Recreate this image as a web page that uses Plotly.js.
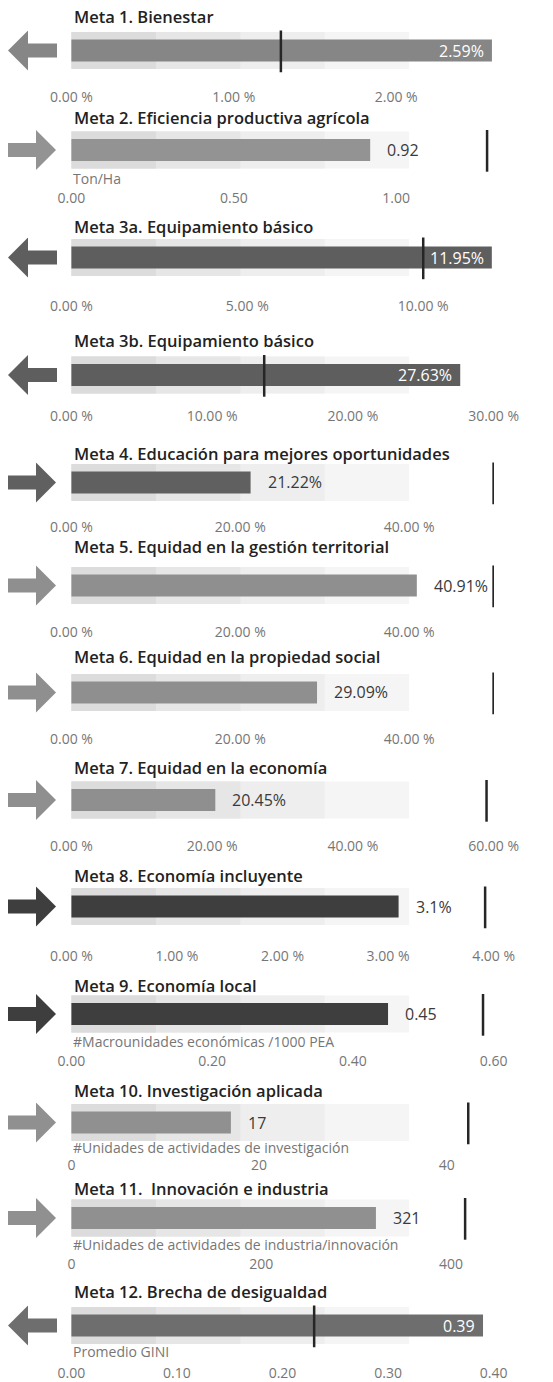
<!DOCTYPE html>
<html>
<head>
<meta charset="utf-8">
<script src="https://cdn.plot.ly/plotly-3.0.1.min.js"></script>
<style>html,body{margin:0;padding:0;background:#fff;}#chart{width:553px;height:1382px;}</style>
</head>
<body>
<div id="chart"></div>
<script>
// ---------- DATA ----------
const titles = [
  'Meta 1. Bienestar',
  'Meta 2. Eficiencia productiva agrícola',
  'Meta 3a. Equipamiento básico',
  'Meta 3b. Equipamiento básico',
  'Meta 4. Educación para mejores oportunidades',
  'Meta 5. Equidad en la gestión territorial',
  'Meta 6. Equidad en la propiedad social',
  'Meta 7. Equidad en la economía',
  'Meta 8. Economía incluyente',
  'Meta 9. Economía local',
  'Meta 10. Investigación aplicada',
  'Meta 11.\u00a0 Innovación e industria',
  'Meta 12. Brecha de desigualdad'
];
const values  = [2.59, 0.92, 11.95, 27.63, 21.22, 40.91, 29.09, 20.45, 3.1, 0.45, 17, 321, 0.39];
const targets = [1.29, 1.28, 10.0, 13.7, 50, 50, 50, 59, 3.92, 0.585, 42.3, 415, 0.23];
const valueLabels = ['2.59%', '0.92', '11.95%', '27.63%', '21.22%', '40.91%', '29.09%', '20.45%', '3.1%', '0.45', '17', '321', '0.39'];
const units = ['', 'Ton/Ha', '', '', '', '', '', '', '',
  '#Macrounidades económicas /1000 PEA',
  '#Unidades de actividades de investigación',
  '#Unidades de actividades de industria/innovación',
  'Promedio GINI'];
const directions = ['left', 'right', 'left', 'left', 'right', 'right', 'right', 'right', 'right', 'right', 'right', 'right', 'left'];
const scaleMax = [2.6, 1.3, 12, 30, 50, 50, 50, 60, 4, 0.6, 45, 445, 0.4];
const bandFractions = [0.2, 0.4, 0.6, 0.8];
const tickVals = [
  [0, 1, 2], [0, 0.5, 1], [0, 5, 10], [0, 10, 20, 30], [0, 20, 40], [0, 20, 40], [0, 20, 40],
  [0, 20, 40, 60], [0, 1, 2, 3, 4], [0, 0.2, 0.4, 0.6], [0, 20, 40], [0, 200, 400], [0, 0.1, 0.2, 0.3, 0.4]
];
const tickText = [
  ['0.00 %', '1.00 %', '2.00 %'],
  ['0.00', '0.50', '1.00'],
  ['0.00 %', '5.00 %', '10.00 %'],
  ['0.00 %', '10.00 %', '20.00 %', '30.00 %'],
  ['0.00 %', '20.00 %', '40.00 %'],
  ['0.00 %', '20.00 %', '40.00 %'],
  ['0.00 %', '20.00 %', '40.00 %'],
  ['0.00 %', '20.00 %', '40.00 %', '60.00 %'],
  ['0.00 %', '1.00 %', '2.00 %', '3.00 %', '4.00 %'],
  ['0.00', '0.20', '0.40', '0.60'],
  ['0', '20', '40'],
  ['0', '200', '400'],
  ['0.00', '0.10', '0.20', '0.30', '0.40']
];

// ---------- STYLE / LAYOUT CONFIG ----------
const W = 553, H = 1382;
const X0 = 71, X1 = 494;
const FONT = 'Open Sans, Noto Sans, sans-serif';
const barColors = ['#868686', '#939393', '#5e5e5e', '#5e5e5e', '#606060', '#8f8f8f', '#8f8f8f', '#8f8f8f',
  '#3e3e3e', '#3e3e3e', '#909090', '#909090', '#6e6e6e'];
const bandColors = ['#dcdcdc', '#e6e6e6', '#eeeeee', '#f5f5f5'];
const barCenterPx = [50.5, 150, 257.5, 375, 482.5, 585.5, 692.5, 800, 906.5, 1014, 1122.5, 1218, 1325.5];
const tickPx = [98, 199, 307, 417, 528, 633, 740, 847, 957, 1062, 1166, 1265, 1374];
const titlePx = [16, 118, 226, 340, 453, 546, 656, 767, 875, 985, 1090, 1188, 1291];
const unitPx = [0, 179, 0, 0, 0, 0, 0, 0, 0, 1041, 1147, 1244, 1351];

const traces = [];
const layout = {
  width: W, height: H,
  margin: {l: 0, r: 0, t: 0, b: 0},
  paper_bgcolor: '#ffffff', plot_bgcolor: 'rgba(0,0,0,0)',
  showlegend: false, barmode: 'overlay',
  font: {family: FONT},
  annotations: [], shapes: []
};

const leftArrow = 'M 8 0 L 28 20 L 28 7 L 57 7 L 57 -7 L 28 -7 L 28 -20 Z';
const rightArrow = 'M 56 0 L 36 20 L 36 7 L 8 7 L 8 -7 L 36 -7 L 36 -20 Z';

for (let i = 0; i < titles.length; i++) {
  const n = i + 1;
  const xa = n === 1 ? 'x' : 'x' + n;
  const ya = n === 1 ? 'y' : 'y' + n;
  const xk = n === 1 ? 'xaxis' : 'xaxis' + n;
  const yk = n === 1 ? 'yaxis' : 'yaxis' + n;
  const R = scaleMax[i];

  for (let k = bandFractions.length - 1; k >= 0; k--) {
    traces.push({type: 'bar', orientation: 'h', x: [bandFractions[k] * R], y: [0], width: 37,
      marker: {color: bandColors[k]}, xaxis: xa, yaxis: ya, hoverinfo: 'skip'});
  }
  traces.push({type: 'bar', orientation: 'h', x: [values[i]], y: [0], width: 22,
    marker: {color: barColors[i]}, xaxis: xa, yaxis: ya, hoverinfo: 'skip'});
  traces.push({type: 'scatter', mode: 'markers', x: [targets[i]], y: [0],
    marker: {symbol: 'line-ns', size: 31, color: '#262626', line: {color: '#262626', width: 2.5}},
    xaxis: xa, yaxis: ya, hoverinfo: 'skip'});

  const top = barCenterPx[i] - 20;
  const bottom = tickPx[i] - 11;
  layout[xk] = {
    domain: [X0 / W, X1 / W], range: [-R * 0.001, R * 1.001], anchor: ya,
    tickmode: 'array', tickvals: tickVals[i], ticktext: tickText[i],
    showgrid: false, zeroline: false, showline: false, ticks: '',
    tickfont: {family: FONT, size: 14, color: '#767676'}, fixedrange: true
  };
  layout[yk] = {
    domain: [1 - bottom / H, 1 - top / H], range: [-(bottom - barCenterPx[i]), 20],
    anchor: xa, visible: false, fixedrange: true
  };

  layout.annotations.push({
    xref: 'paper', yref: 'paper', x: 72 / W, y: 1 - titlePx[i] / H,
    xanchor: 'left', yanchor: 'middle', showarrow: false, text: titles[i],
    font: {family: FONT, size: 16.5, color: '#222222', weight: 600}
  });
  if (units[i]) {
    layout.annotations.push({
      xref: 'paper', yref: 'paper', x: 71 / W, y: 1 - unitPx[i] / H,
      xanchor: 'left', yanchor: 'middle', showarrow: false, text: units[i],
      font: {family: FONT, size: 14, color: '#767676'}
    });
  }
  const inside = values[i] / R > 0.9;
  layout.annotations.push({
    xref: xa, yref: ya, x: values[i], y: 0,
    xanchor: inside ? 'right' : 'left', xshift: inside ? -6 : 15, yanchor: 'middle',
    showarrow: false, text: valueLabels[i],
    font: {family: FONT, size: 16, color: inside ? '#ffffff' : '#3a3a3a'}
  });
  layout.shapes.push({
    type: 'path', xref: 'paper', yref: ya, xsizemode: 'pixel', ysizemode: 'pixel',
    xanchor: 0, yanchor: 0, path: directions[i] === 'left' ? leftArrow : rightArrow,
    fillcolor: barColors[i], line: {width: 0}
  });
}

Plotly.newPlot('chart', traces, layout, {staticPlot: true, displayModeBar: false});
</script>
</body>
</html>
